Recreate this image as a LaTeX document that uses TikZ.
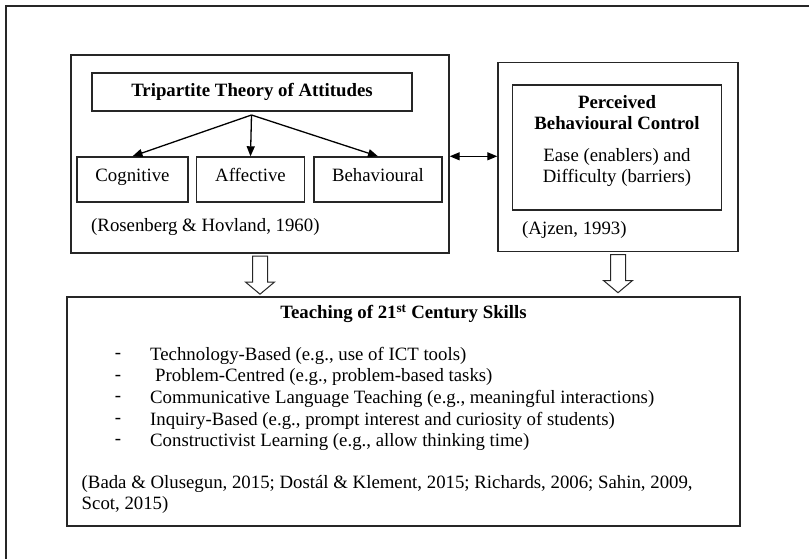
\documentclass[tikz,border=0pt]{standalone}
\usepackage{fontspec}
\setmainfont{Liberation Serif}
\usetikzlibrary{arrows.meta,positioning,shapes.arrows}

\begin{document}
\begin{tikzpicture}[x=1pt,y=-1pt,
	font=\fontsize{18.8}{21.5}\selectfont,
	box/.style={draw=black!85, line width=1.4pt, inner sep=0pt},
	hollow/.style={single arrow, draw=black!85, line width=1pt, fill=white,
		shape border rotate=270, minimum height=38pt, minimum width=28pt,
		single arrow head extend=7pt, single arrow tip angle=100, inner sep=7pt},
	feed/.style={-{Triangle[length=10pt,width=8pt]}, line width=1.3pt}]
	\useasboundingbox (0,0) rectangle (809,559);
	% frame round the figure
	\draw[line width=1.4pt, black!85] (809,6) -- (6,6) -- (6,559);

	% attitudes
	\node[box, minimum width=378pt, minimum height=198pt] (tripart) at (260,154) {};
	\node[box, minimum width=320pt, minimum height=38pt, font=\fontsize{18.8}{21.5}\selectfont\bfseries] (tta) at (252,92) {Tripartite Theory of Attitudes};
	\foreach \x/\w/\alph/\name in {
		132.5/111/cog/Cognitive,
		250.5/107.5/aff/Affective,
		378/128/beh/Behavioural
	}{
		\node[box, minimum width=\w pt, minimum height=45pt, text height=13pt, text depth=9pt] (\alph) at (\x,179.5) {\name};
	}
	\coordinate (fork) at (251.5,115);
	\foreach \alph in {cog, aff, beh}
		{\draw[feed] (fork) -- (\alph.north);}
	\node[anchor=west, inner sep=0pt] (ros) at (91,227) {(Rosenberg \& Hovland, 1960)};

	% control
	\node[box, minimum width=240pt, minimum height=189pt] (tpb) at (618,157) {};
	\node[box, minimum width=209pt, minimum height=125pt] (pbc) at (617,147.5) {};
	\node[align=center] (pbctxt) at (617,141) {\textbf{Perceived}\\\textbf{Behavioural Control}\\[10pt]Ease (enablers) and\\Difficulty (barriers)};
	\node[anchor=west, inner sep=0pt] (ajz) at (522,230) {(Ajzen, 1993)};

	\draw[{Triangle[length=10pt,width=8pt]}-{Triangle[length=10pt,width=8pt]}, line width=1.3pt] (tripart.east |- beh.north) -- (tpb.west |- beh.north);

	% skills
	\node[box, minimum width=673pt, minimum height=229pt] (skills) at (403.5,411.5) {};
	\node[font=\fontsize{18.8}{21.5}\selectfont\bfseries] (sktitle) at (403.5,314) {Teaching of 21\textsuperscript{st} Century Skills};
	\foreach \i/\x/\y/\txt in {
		1/150/356/{Technology-Based (e.g., use of ICT tools)},
		2/155/377.5/{Problem-Centred (e.g., problem-based tasks)},
		3/150/399/{Communicative Language Teaching (e.g., meaningful interactions)},
		4/150/420.5/{Inquiry-Based (e.g., prompt interest and curiosity of students)},
		5/150/442/{Constructivist Learning (e.g., allow thinking time)}
	}{
		\node (dash\i) at (118,\y) {-};
		\node[anchor=west, inner sep=0pt] (item\i) at (\x,\y) {\txt};
	}
	\node[anchor=west, align=left, inner sep=0pt] (cite) at (81.5,494.5) {(Bada \& Olusegun, 2015; Dostál \& Klement, 2015; Richards, 2006; Sahin, 2009,\\Scot, 2015)};

	\node[hollow, below=2pt of tripart, anchor=tail] (down1) {};
	\node[hollow, below=2pt of tpb, anchor=tail] (down2) {};
\end{tikzpicture}
\end{document}
